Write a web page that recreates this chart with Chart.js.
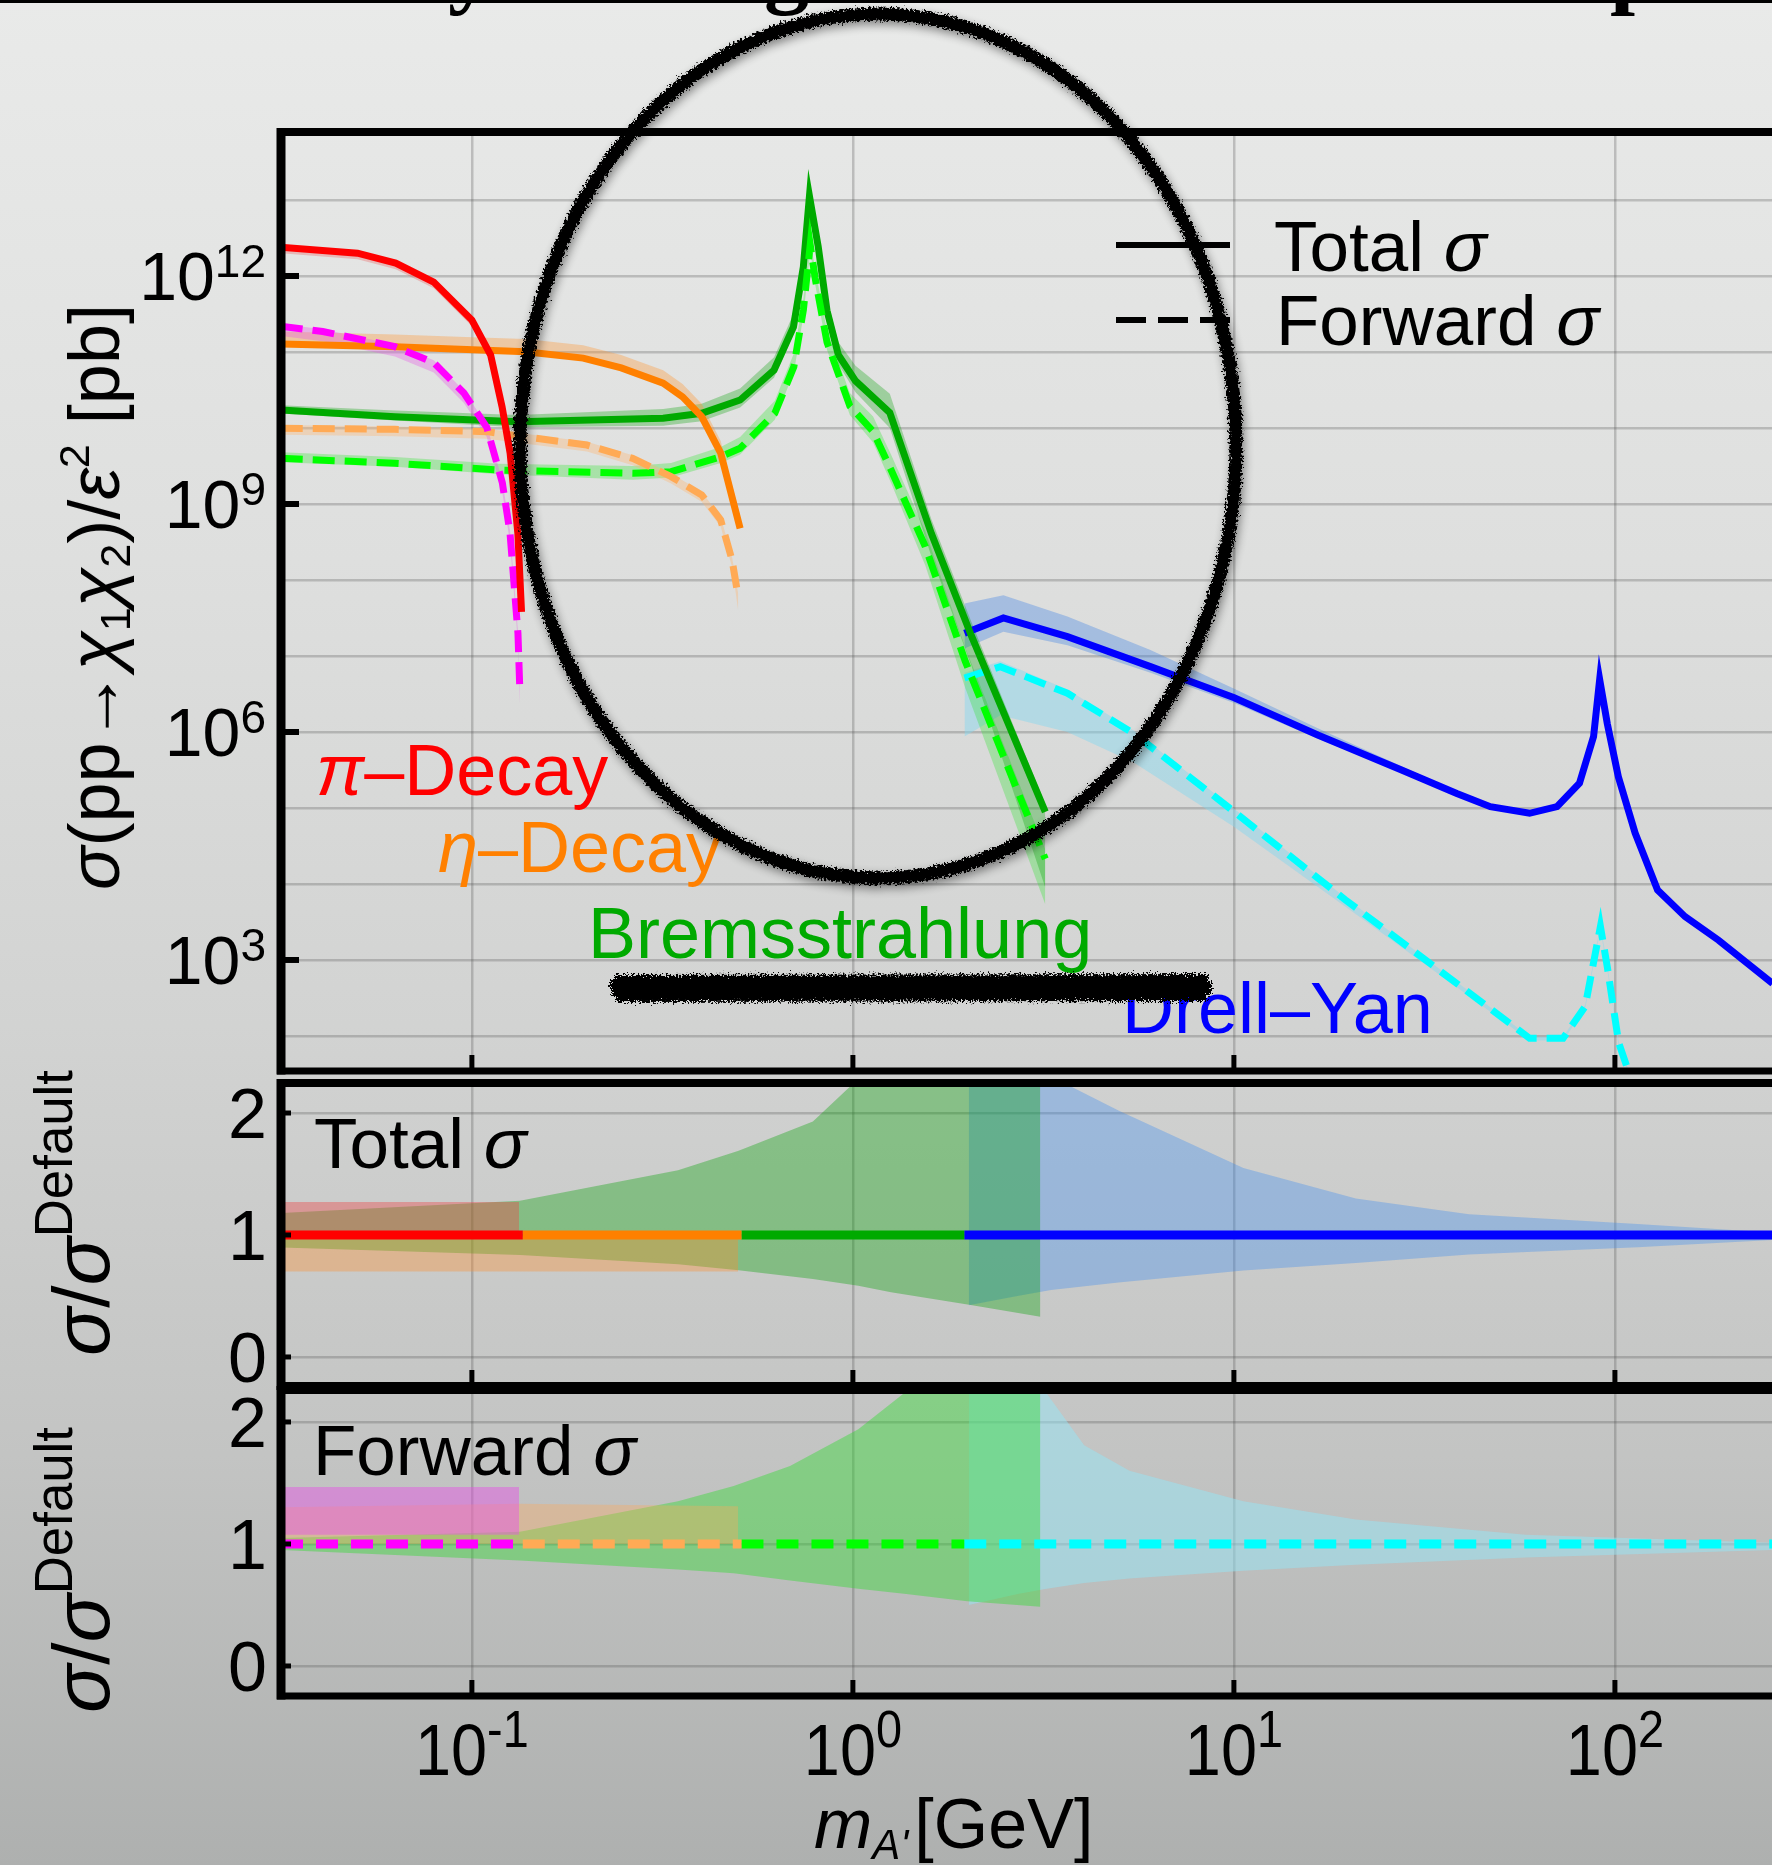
<!DOCTYPE html>
<html>
<head>
<meta charset="utf-8">
<script src="https://cdn.jsdelivr.net/npm/chart.js"></script>
<style>
  html, body { margin: 0; padding: 0; }
  body {
    width: 1772px; height: 1865px; overflow: hidden; position: relative;
    background: linear-gradient(to bottom, #e9eae9 0%, #dedfde 30%, #d2d3d2 55%, #c3c4c3 78%, #aeb0af 100%);
    font-family: "Liberation Sans", Arial, sans-serif;
  }
  canvas { position: absolute; left: 0; top: 0; }
  .t { position: absolute; white-space: nowrap; line-height: 1; }
  .g { font-style: italic; }
  .t sub, .t sup { font-size: 0.6em; line-height: 0; }
  .t sub { vertical-align: -0.25em; }
  .t sup { vertical-align: 0.7em; }
  .rot { transform: translate(-50%, -50%) rotate(-90deg); }
  .head { position: absolute; left: 0; top: 0; width: 1772px; height: 20px; overflow: hidden; }
  .head span { position: absolute; top: -78px; font: bold 90px "Liberation Serif", serif; line-height: 1; }
  .bar { position: absolute; left: 0; top: 0; width: 1772px; height: 3px; background: #000; }
  svg { position: absolute; left: 0; top: 0; }
</style>
</head>
<body>
<canvas id="cMain" width="1772" height="1865"></canvas>
<canvas id="cTot" width="1772" height="1865"></canvas>
<canvas id="cFwd" width="1772" height="1865"></canvas>

<div class="head"><span style="left:448px">y</span><span style="left:764px">g</span><span style="left:1610px">p</span></div>
<div class="bar"></div>

<!-- axis titles -->
<div class="t rot" style="left:94px; top:597px; font-size:72px;"><span class="g">σ</span>(pp→<span class="g">χ</span><sub>1</sub><span class="g">χ</span><sub>2</sub>)/<span class="g">ε</span><sup>2</sup> [pb]</div>
<div class="t rot" style="left:82px; top:1213px; font-size:80px;"><span class="g">σ</span>/<span class="g">σ</span><sup style="font-size:0.66em">Default</sup></div>
<div class="t rot" style="left:82px; top:1570px; font-size:80px;"><span class="g">σ</span>/<span class="g">σ</span><sup style="font-size:0.66em">Default</sup></div>
<div class="t" style="left:814px; top:1789px; font-size:70px;"><span class="g">m</span><sub class="g">A'</sub><span style="margin-left:6px">[GeV]</span></div>

<!-- legend and labels -->
<div class="t" style="left:1274px; top:211px; font-size:71px;">Total <span class="g">σ</span></div>
<div class="t" style="left:1276px; top:285px; font-size:71px;">Forward <span class="g">σ</span></div>
<div class="t" style="left:316px; top:734px; font-size:72px; color:#ff0000;"><span class="g">π</span>–Decay</div>
<div class="t" style="left:438px; top:811px; font-size:72px; color:#ff8000;"><span class="g">η</span>–Decay</div>
<div class="t" style="left:588px; top:897px; font-size:72px; color:#00aa00;">Bremsstrahlung</div>
<div class="t" style="left:1122px; top:972px; font-size:72px; color:#0000ff;">Drell–Yan</div>
<div class="t" style="left:314px; top:1108px; font-size:71px;">Total <span class="g">σ</span></div>
<div class="t" style="left:313px; top:1415px; font-size:71px;">Forward <span class="g">σ</span></div>

<svg width="1772" height="1865">
  <defs>
    <filter id="rough" x="-10%" y="-10%" width="120%" height="120%">
      <feTurbulence type="fractalNoise" baseFrequency="0.45" numOctaves="3" seed="4" result="n"/>
      <feDisplacementMap in="SourceGraphic" in2="n" scale="9" xChannelSelector="R" yChannelSelector="G" result="d"/>
      <feGaussianBlur in="d" stdDeviation="5" result="b"/>
      <feOffset in="b" dx="2" dy="4" result="o"/>
      <feComponentTransfer in="o" result="s"><feFuncA type="linear" slope="0.45"/></feComponentTransfer>
      <feMerge><feMergeNode in="s"/><feMergeNode in="d"/></feMerge>
    </filter>
    <filter id="scrib" x="-5%" y="-60%" width="110%" height="220%">
      <feTurbulence type="fractalNoise" baseFrequency="0.6" numOctaves="3" seed="9" result="n"/>
      <feDisplacementMap in="SourceGraphic" in2="n" scale="12" xChannelSelector="R" yChannelSelector="G"/>
    </filter>
  </defs>
  <line x1="1116" y1="245" x2="1230" y2="245" stroke="#000" stroke-width="6"/>
  <line x1="1116" y1="320" x2="1230" y2="320" stroke="#000" stroke-width="6" stroke-dasharray="30 12"/>
  <ellipse cx="878" cy="446" rx="358" ry="432" fill="none" stroke="#000" stroke-width="13" filter="url(#rough)"/>
  <g filter="url(#scrib)" stroke="#000" fill="none" stroke-width="8">
    <path d="M614 979 L1208 978"/>
    <path d="M610 985 L1212 986"/>
    <path d="M612 992 L1210 991"/>
    <path d="M616 998 L1206 997"/>
  </g>
</svg>

<script>
'use strict';

// ---------------- axes ----------------
var X_MIN = 0.03155;
var X_MAX = 258.4;
var xGridVals = [0.1, 1, 10, 100];
var xTickExps = ['-1', '0', '1', '2'];
var mainGridVals = [1e2, 1e3, 1e4, 1e5, 1e6, 1e7, 1e8, 1e9, 1e10, 1e11, 1e12, 1e13];
var mainTickVals = [1e3, 1e6, 1e9, 1e12];
var mainTickExps = ['3', '6', '9', '12'];
var ratioTickVals = [0, 1, 2];

// ---------------- main panel: m [GeV] and log10(sigma/pb) ----------------
var piTotM = [0.0315, 0.0501, 0.0631, 0.0794, 0.100, 0.112, 0.120, 0.126, 0.132, 0.135];
var piTotLog = [12.38, 12.30, 12.17, 11.92, 11.42, 10.96, 10.28, 9.67, 8.62, 7.58];
var piTotHi = [12.40, 12.32, 12.19, 11.94, 11.44, 10.98, 10.30, 9.69, 8.64, 7.60];
var piTotLo = [12.30, 12.22, 12.09, 11.84, 11.34, 10.88, 10.20, 9.59, 8.54, 7.50];

var piFwdM = [0.0315, 0.0406, 0.0628, 0.0794, 0.0953, 0.1094, 0.1202, 0.1259, 0.1321, 0.1337];
var piFwdLog = [11.34, 11.27, 11.07, 10.86, 10.46, 10.01, 9.28, 8.62, 7.30, 6.51];
var piFwdHi = [11.37, 11.30, 11.10, 10.89, 10.49, 10.04, 9.31, 8.65, 7.33, 6.54];
var piFwdLo = [11.21, 11.14, 10.94, 10.73, 10.33, 9.88, 9.15, 8.49, 7.17, 6.38];

var etaTotM = [0.0315, 0.0628, 0.1047, 0.1384, 0.1959, 0.2466, 0.3177, 0.3573, 0.4009, 0.4498, 0.5058];
var etaTotLog = [11.105, 11.07, 11.026, 11.004, 10.92, 10.79, 10.59, 10.41, 10.15, 9.67, 8.68];
var etaTotHi = [11.27, 11.23, 11.19, 11.17, 11.09, 10.96, 10.76, 10.58, 10.32, 9.83, 8.84];
var etaTotLo = [11.08, 11.05, 11.00, 10.98, 10.90, 10.77, 10.57, 10.39, 10.13, 9.65, 8.66];

var etaFwdM = [0.0315, 0.0628, 0.1094, 0.2004, 0.2642, 0.3334, 0.4009, 0.4498, 0.4819, 0.5000];
var etaFwdLog = [9.996, 9.983, 9.952, 9.776, 9.60, 9.36, 9.12, 8.79, 8.26, 7.78];
var etaFwdHi = [10.04, 10.02, 9.99, 9.82, 9.64, 9.40, 9.16, 8.83, 8.30, 7.82];
var etaFwdLo = [9.91, 9.89, 9.86, 9.69, 9.51, 9.27, 9.03, 8.70, 8.17, 7.60];

var bremTotM = [0.0315, 0.0628, 0.1321, 0.3177, 0.4009, 0.5058, 0.6209, 0.6982, 0.7413, 0.7691, 0.8110, 0.8551, 0.9162, 1.016, 1.250, 1.607, 2.046, 3.199];
var bremTotLog = [10.237, 10.149, 10.083, 10.128, 10.193, 10.368, 10.763, 11.33, 12.12, 13.05, 12.386, 11.546, 10.96, 10.62, 10.20, 8.61, 7.267, 4.95];
var bremTotHi = [10.30, 10.23, 10.17, 10.25, 10.32, 10.52, 10.93, 11.50, 12.27, 13.22, 12.50, 11.70, 11.13, 10.82, 10.45, 8.80, 7.45, 5.05];
var bremTotLo = [10.19, 10.10, 10.01, 10.03, 10.09, 10.27, 10.66, 11.23, 12.02, 13.00, 12.30, 11.45, 10.84, 10.47, 10.00, 8.31, 6.87, 3.95];

var bremFwdM = [0.0315, 0.0628, 0.1175, 0.2642, 0.3334, 0.4498, 0.5058, 0.6237, 0.6998, 0.7413, 0.7727, 0.7962, 0.8551, 0.9817, 1.130, 1.259, 1.549, 1.972, 2.692, 3.199];
var bremFwdLog = [9.601, 9.536, 9.447, 9.404, 9.425, 9.622, 9.733, 10.193, 10.807, 11.553, 12.41, 11.97, 11.13, 10.29, 9.953, 9.45, 8.44, 6.93, 5.25, 4.33];
var bremFwdHi = [9.68, 9.62, 9.53, 9.50, 9.54, 9.75, 9.88, 10.36, 10.98, 11.70, 12.49, 12.09, 11.28, 10.46, 10.15, 9.65, 8.64, 7.11, 5.40, 4.45];
var bremFwdLo = [9.55, 9.49, 9.39, 9.32, 9.35, 9.54, 9.65, 10.11, 10.73, 11.47, 12.33, 11.89, 11.03, 10.17, 9.81, 9.28, 8.19, 6.58, 4.75, 3.73];

var dyTotM = [1.963, 2.483, 3.656, 6.039, 10.02, 16.60, 27.54, 38.46, 47.10, 59.70, 70.47, 80.72, 87.90, 91.20, 95.50, 102.1, 113.0, 129.4, 152.8, 187.1, 259.4];
var dyTotLog = [7.30, 7.50, 7.254, 6.86, 6.45, 5.96, 5.50, 5.19, 5.017, 4.93, 5.017, 5.325, 5.94, 6.69, 6.11, 5.41, 4.67, 3.92, 3.57, 3.26, 2.69];
var dyTotHi = [7.69, 7.80, 7.52, 7.08, 6.57, 6.05, 5.55, 5.22, 5.04, 4.95, 5.03, 5.34, 5.95, 6.70, 6.12, 5.42, 4.68, 3.93, 3.58, 3.27, 2.70];
var dyTotLo = [7.10, 7.32, 7.14, 6.78, 6.38, 5.91, 5.47, 5.17, 5.00, 4.91, 5.00, 5.31, 5.93, 6.68, 6.10, 5.40, 4.66, 3.91, 3.56, 3.25, 2.68];

var dyFwdM = [1.963, 2.438, 3.656, 5.458, 10.02, 19.63, 38.46, 59.70, 73.11, 83.56, 91.62, 95.50, 102.3, 110.9];
var dyFwdLog = [6.71, 6.86, 6.51, 5.98, 4.95, 3.79, 2.69, 1.97, 1.97, 2.39, 3.44, 2.91, 1.91, 1.40];
var dyFwdHi = [6.78, 6.93, 6.56, 6.02, 4.99, 3.82, 2.71, 1.99, 1.99, 2.41, 3.46, 2.93, 1.93, 1.42];
var dyFwdLo = [5.94, 6.22, 6.00, 5.60, 4.75, 3.70, 2.64, 1.94, 1.94, 2.36, 3.40, 2.87, 1.87, 1.36];

// ---------------- ratio panels (sigma / sigma_default) ----------------
var segEdges = [0.03155, 0.136, 0.51, 1.96, 258.4];

var totRedM = [0.0315, 0.133], totRedHi = [1.27, 1.27], totRedLo = [1.0, 1.0];
var totOrangeM = [0.0315, 0.50], totOrangeHi = [1.0, 1.0], totOrangeLo = [0.70, 0.70];
var totGreenM = [0.0316, 0.1337, 0.3475, 0.5012, 0.7852, 1.033, 1.259, 2.056, 3.105];
var totGreenHi = [1.18, 1.28, 1.53, 1.69, 1.93, 2.28, 2.5, 2.9, 3.1];
var totGreenLo = [0.898, 0.836, 0.76, 0.71, 0.64, 0.583, 0.53, 0.423, 0.33];
var totBlueM = [2.014, 2.704, 3.311, 4.977, 10.59, 20.89, 41.40, 114.8, 259.4];
var totBlueHi = [3.5, 2.9, 2.3, 2.02, 1.55, 1.30, 1.17, 1.09, 1.02];
var totBlueLo = [0.425, 0.50, 0.55, 0.61, 0.709, 0.77, 0.84, 0.90, 0.96];

var fwdMagM = [0.0315, 0.133], fwdMagHi = [1.467, 1.467], fwdMagLo = [1.075, 1.075];
var fwdOrangeM = [0.0315, 0.133, 0.50], fwdOrangeHi = [1.30, 1.33, 1.31], fwdOrangeLo = [1.0, 1.0, 1.0];
var fwdLimeM = [0.0316, 0.1337, 0.3475, 0.4864, 0.6839, 1.033, 1.380, 1.995, 3.105];
var fwdLimeHi = [1.05, 1.10, 1.35, 1.475, 1.64, 1.94, 2.25, 2.6, 2.9];
var fwdLimeLo = [0.95, 0.865, 0.79, 0.76, 0.70, 0.634, 0.59, 0.53, 0.486];
var fwdCyanM = [2.014, 2.704, 3.199, 4.046, 5.321, 10.59, 20.89, 58.34, 259.4];
var fwdCyanHi = [3.5, 3.0, 2.25, 1.81, 1.60, 1.35, 1.20, 1.075, 1.01];
var fwdCyanLo = [0.50, 0.59, 0.63, 0.68, 0.717, 0.78, 0.83, 0.89, 0.95];

// ---------------- helpers ----------------
function pts(ms, ys, isLog) {
  return ms.map(function (m, i) {
    return { x: m, y: isLog ? Math.pow(10, ys[i]) : ys[i] };
  });
}

function lineSet(ms, ys, isLog, color, width, dash) {
  return {
    data: pts(ms, ys, isLog), borderColor: color, borderWidth: width,
    borderDash: dash || [], pointRadius: 0, fill: false, tension: 0, clip: 0, order: 1
  };
}

// two datasets: lower edge (invisible) and upper edge filled down to it
function bandSets(ms, lo, hi, isLog, color) {
  return [
    { data: pts(ms, lo, isLog), borderColor: 'transparent', borderWidth: 0, pointRadius: 0, fill: false, clip: 0, order: 5 },
    { data: pts(ms, hi, isLog), borderColor: 'transparent', borderWidth: 0, pointRadius: 0, fill: '-1', backgroundColor: color, clip: 0, order: 5 }
  ];
}

function flatSet(a, b, color, dash) {
  return lineSet([a, b], [1, 1], false, color, 9, dash);
}

function seg(ctx, x1, y1, x2, y2, w) {
  ctx.lineWidth = w;
  ctx.beginPath();
  ctx.moveTo(x1, y1);
  ctx.lineTo(x2, y2);
  ctx.stroke();
}

// "10" with a raised exponent; sx squeezes the glyphs horizontally
function drawPow(ctx, exp, x, base, align, big, small, rise, sx) {
  ctx.save();
  ctx.font = big + 'px "Liberation Sans"';
  var w1 = ctx.measureText('10').width * sx;
  ctx.font = small + 'px "Liberation Sans"';
  var w2 = ctx.measureText(exp).width * sx;
  var x0 = align === 'right' ? x - w1 - w2 : x - (w1 + w2) / 2;
  ctx.textAlign = 'left';
  ctx.textBaseline = 'alphabetic';
  ctx.translate(x0, base);
  ctx.scale(sx, 1);
  ctx.font = big + 'px "Liberation Sans"';
  ctx.fillText('10', 0, 0);
  ctx.font = small + 'px "Liberation Sans"';
  ctx.fillText(exp, w1 / sx, -rise);
  ctx.restore();
}

// frame, inward tick marks and tick labels for one panel
function decor(cfg) {
  return {
    id: 'decor',
    afterDraw: function (chart) {
      var ctx = chart.ctx, a = chart.chartArea;
      var xs = chart.scales.x, ys = chart.scales.y;
      ctx.save();
      ctx.strokeStyle = '#000';
      ctx.fillStyle = '#000';
      seg(ctx, a.left - 4, a.top, a.right, a.top, cfg.topW);
      seg(ctx, a.left - 4, a.bottom, a.right, a.bottom, cfg.botW);
      seg(ctx, a.left, a.top - cfg.topW / 2, a.left, a.bottom + cfg.botW / 2, 9);
      xGridVals.forEach(function (v) {
        var p = xs.getPixelForValue(v);
        seg(ctx, p, a.bottom, p, a.bottom - 16, 5);
      });
      cfg.yTicks.forEach(function (v) {
        var p = ys.getPixelForValue(v);
        seg(ctx, a.left, p, a.left + cfg.yTickLen, p, cfg.yTickW);
      });
      cfg.labels(ctx, xs, ys);
      ctx.restore();
    }
  };
}

var gridStyle = { color: 'rgba(80,80,80,0.28)', lineWidth: 2.5, drawTicks: false };

function makeChart(id, top, bottom, yScale, datasets, deco) {
  yScale.ticks = { display: false };
  yScale.grid = gridStyle;
  yScale.border = { display: false };
  yScale.afterFit = function (s) { s.width = 0; };
  return new Chart(document.getElementById(id), {
    type: 'line',
    data: { datasets: datasets },
    options: {
      responsive: false,
      animation: false,
      devicePixelRatio: 1,
      layout: { padding: { left: 281, right: 0, top: top, bottom: 1865 - bottom } },
      plugins: { legend: { display: false }, tooltip: { enabled: false } },
      scales: {
        x: {
          type: 'logarithmic', min: X_MIN, max: X_MAX,
          ticks: { display: false }, grid: gridStyle, border: { display: false },
          afterBuildTicks: function (s) { s.ticks = xGridVals.map(function (v) { return { value: v }; }); },
          afterFit: function (s) { s.height = 0; }
        },
        y: yScale
      }
    },
    plugins: [decor(deco)]
  });
}

// ---------------- main panel ----------------
var mainDash = [22, 10];
var mainSets = [].concat(
  lineSet(piTotM, piTotLog, true, '#ff0000', 7),
  lineSet(piFwdM, piFwdLog, true, '#ff00ff', 7, mainDash),
  lineSet(etaTotM, etaTotLog, true, '#ff8000', 7),
  lineSet(etaFwdM, etaFwdLog, true, '#ffaa55', 7, mainDash),
  lineSet(bremFwdM, bremFwdLog, true, '#00ff00', 7, mainDash),
  lineSet(bremTotM, bremTotLog, true, '#00aa00', 7),
  lineSet(dyFwdM, dyFwdLog, true, '#00ffff', 7, mainDash),
  lineSet(dyTotM, dyTotLog, true, '#0000ff', 7),
  bandSets(piTotM, piTotLo, piTotHi, true, 'rgba(240,80,80,0.3)'),
  bandSets(piFwdM, piFwdLo, piFwdHi, true, 'rgba(230,90,230,0.35)'),
  bandSets(etaTotM, etaTotLo, etaTotHi, true, 'rgba(255,150,50,0.35)'),
  bandSets(etaFwdM, etaFwdLo, etaFwdHi, true, 'rgba(255,180,110,0.35)'),
  bandSets(bremTotM, bremTotLo, bremTotHi, true, 'rgba(0,160,0,0.3)'),
  bandSets(bremFwdM, bremFwdLo, bremFwdHi, true, 'rgba(40,230,40,0.3)'),
  bandSets(dyTotM, dyTotLo, dyTotHi, true, 'rgba(60,130,230,0.35)'),
  bandSets(dyFwdM, dyFwdLo, dyFwdHi, true, 'rgba(130,215,240,0.45)')
);

makeChart('cMain', 132, 1071, {
  type: 'logarithmic', min: Math.pow(10, 1.539), max: Math.pow(10, 13.895),
  afterBuildTicks: function (s) { s.ticks = mainGridVals.map(function (v) { return { value: v }; }); }
}, mainSets, {
  topW: 8, botW: 7, yTicks: mainTickVals, yTickLen: 18, yTickW: 6,
  labels: function (ctx, xs, ys) {
    mainTickVals.forEach(function (v, i) {
      drawPow(ctx, mainTickExps[i], 266, ys.getPixelForValue(v) + 24, 'right', 68, 46, 23, 1);
    });
  }
});

// ---------------- ratio panels ----------------
function ratioLabels(ctx, xs, ys) {
  ctx.font = '70px "Liberation Sans"';
  ctx.textAlign = 'right';
  ctx.textBaseline = 'alphabetic';
  ratioTickVals.forEach(function (v) {
    ctx.fillText(String(v), 267, ys.getPixelForValue(v) + 25);
  });
}

var totSets = [].concat(
  flatSet(segEdges[0], segEdges[1], '#ff0000'),
  flatSet(segEdges[1], segEdges[2], '#ff8000'),
  flatSet(segEdges[2], segEdges[3], '#00aa00'),
  flatSet(segEdges[3], segEdges[4], '#0000ff'),
  bandSets(totRedM, totRedLo, totRedHi, false, 'rgba(235,70,70,0.4)'),
  bandSets(totOrangeM, totOrangeLo, totOrangeHi, false, 'rgba(255,140,40,0.35)'),
  bandSets(totGreenM, totGreenLo, totGreenHi, false, 'rgba(0,160,0,0.35)'),
  bandSets(totBlueM, totBlueLo, totBlueHi, false, 'rgba(60,140,240,0.35)')
);

makeChart('cTot', 1083, 1386, {
  type: 'linear', min: -0.238, max: 2.246,
  afterBuildTicks: function (s) { s.ticks = ratioTickVals.map(function (v) { return { value: v }; }); }
}, totSets, {
  topW: 8, botW: 8, yTicks: ratioTickVals, yTickLen: 10, yTickW: 5, labels: ratioLabels
});

var fwdDash = [22, 13];
var fwdSets = [].concat(
  flatSet(segEdges[0], segEdges[1], '#ff00ff', fwdDash),
  flatSet(segEdges[1], segEdges[2], '#ffaa55', fwdDash),
  flatSet(segEdges[2], segEdges[3], '#00ff00', fwdDash),
  flatSet(segEdges[3], segEdges[4], '#00ffff', fwdDash),
  bandSets(fwdMagM, fwdMagLo, fwdMagHi, false, 'rgba(230,80,230,0.45)'),
  bandSets(fwdOrangeM, fwdOrangeLo, fwdOrangeHi, false, 'rgba(255,170,90,0.35)'),
  bandSets(fwdLimeM, fwdLimeLo, fwdLimeHi, false, 'rgba(40,220,40,0.4)'),
  bandSets(fwdCyanM, fwdCyanLo, fwdCyanHi, false, 'rgba(150,230,245,0.5)')
);

makeChart('cFwd', 1390, 1696, {
  type: 'linear', min: -0.246, max: 2.262,
  afterBuildTicks: function (s) { s.ticks = ratioTickVals.map(function (v) { return { value: v }; }); }
}, fwdSets, {
  topW: 8, botW: 7, yTicks: ratioTickVals, yTickLen: 10, yTickW: 5,
  labels: function (ctx, xs, ys) {
    ratioLabels(ctx, xs, ys);
    xGridVals.forEach(function (v, i) {
      drawPow(ctx, xTickExps[i], xs.getPixelForValue(v), 1775, 'center', 72, 52, 28, 0.9);
    });
  }
});
</script>
</body>
</html>
